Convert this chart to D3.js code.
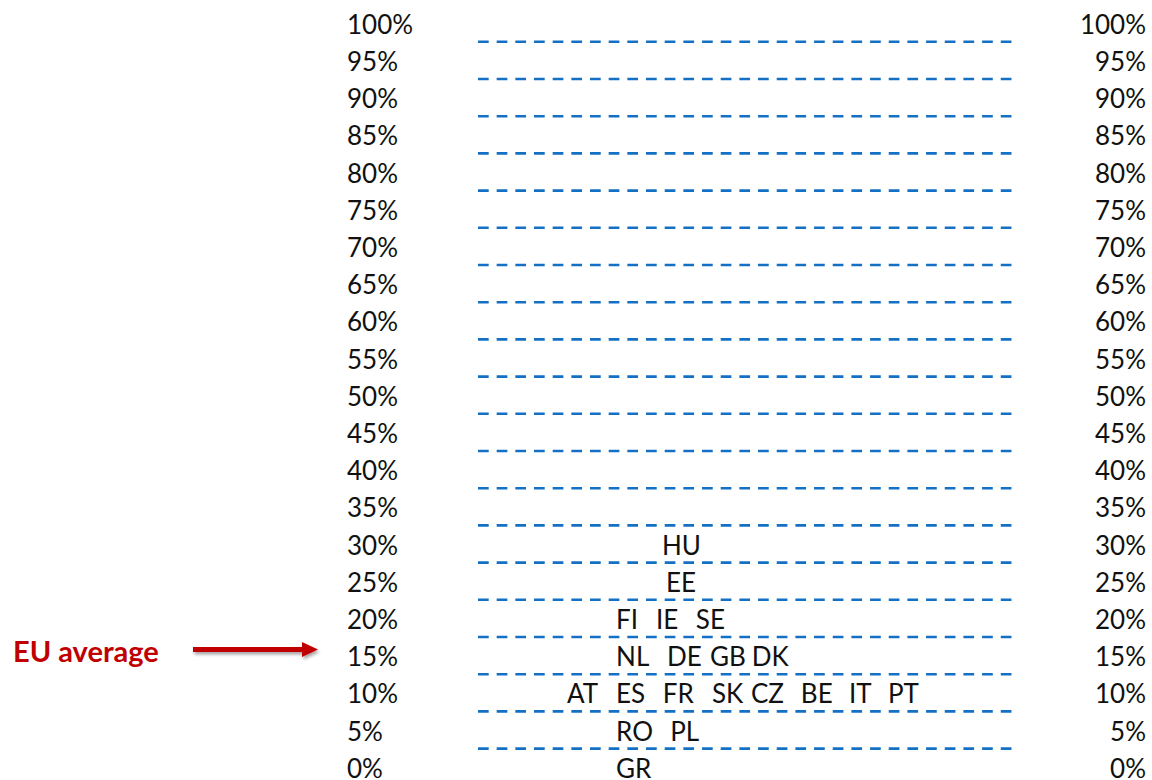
<!DOCTYPE html>
<html>
<head>
<meta charset="utf-8">
<script src="https://cdn.jsdelivr.net/npm/d3@7"></script>
<style>
  html, body { margin: 0; padding: 0; background: #fff; }
  svg { display: block; font-family: Lato, 'Noto Sans', sans-serif; }
</style>
</head>
<body>
<svg id="chart" width="1152" height="780"></svg>
<script>
// percentage rows, top to bottom
const ticks = [100, 95, 90, 85, 80, 75, 70, 65, 60, 55, 50, 45, 40, 35, 30, 25, 20, 15, 10, 5, 0];

// countries: share bucket (%) and horizontal column
const codes = ['HU', 'EE', 'FI', 'IE', 'SE', 'NL', 'DE', 'GB', 'DK',
  'AT', 'ES', 'FR', 'SK', 'CZ', 'BE', 'IT', 'PT', 'RO', 'PL', 'GR'];
const shares = [30, 25, 20, 20, 20, 15, 15, 15, 15,
  10, 10, 10, 10, 10, 10, 10, 10, 5, 5, 0];
const columns = [2.07, 2.16, 1.07, 1.94, 2.81, 1.07, 2.18, 3.12, 4.03,
  0, 1.07, 2.09, 3.16, 4.01, 5.1, 6.15, 7, 1.07, 2.25, 1.07];

const euAverage = 15;

const svg = d3.select('#chart');

const y = d3.scaleBand()
  .domain(ticks)
  .range([4.6, 4.6 + ticks.length * 37.2]);

const x = d3.scaleLinear()
  .domain([0, 7])
  .range([567, 888]);

const baseline = d => y(d) + y.bandwidth() - 8;

// dashed separators under every row except the last
svg.append('g')
  .selectAll('line')
  .data(ticks.slice(0, -1))
  .join('line')
  .attr('x1', 478)
  .attr('x2', 1012)
  .attr('y1', d => y(d) + y.bandwidth())
  .attr('y2', d => y(d) + y.bandwidth())
  .attr('stroke', '#1470c4')
  .attr('stroke-width', 2.6)
  .attr('stroke-dasharray', '10.7,7.97');

// left labels
svg.append('g')
  .selectAll('text')
  .data(ticks)
  .join('text')
  .attr('x', 347)
  .attr('y', baseline)
  .style('font-size', '26px')
  .style('fill', '#111')
  .text(d => `${d}%`);

// right labels
svg.append('g')
  .selectAll('text')
  .data(ticks)
  .join('text')
  .attr('x', 1146)
  .attr('y', baseline)
  .attr('text-anchor', 'end')
  .style('font-size', '26px')
  .style('fill', '#111')
  .text(d => `${d}%`);

// country codes
svg.append('g')
  .selectAll('text')
  .data(codes.map((c, i) => ({code: c, share: shares[i], col: columns[i]})))
  .join('text')
  .attr('x', d => x(d.col))
  .attr('y', d => baseline(d.share))
  .style('font-size', '26px')
  .style('fill', '#111')
  .text(d => d.code);

// EU average annotation
const defs = svg.append('defs');
const blur = defs.append('filter').attr('id', 'shadow').attr('x', '-20%').attr('y', '-100%')
  .attr('width', '140%').attr('height', '300%');
blur.append('feDropShadow')
  .attr('dx', 1.5).attr('dy', 2.5).attr('stdDeviation', 1.6)
  .attr('flood-color', '#000').attr('flood-opacity', 0.35);

const ay = y(euAverage) + y.bandwidth() / 2 - 6;
const arrow = svg.append('g').attr('filter', 'url(#shadow)');
arrow.append('line')
  .attr('x1', 193).attr('x2', 304)
  .attr('y1', ay).attr('y2', ay)
  .attr('stroke', '#c00000')
  .attr('stroke-width', 5);
arrow.append('path')
  .attr('d', `M302,${ay - 7.5} L318,${ay} L302,${ay + 7.5} Z`)
  .attr('fill', '#c00000');

svg.append('text')
  .attr('x', 13)
  .attr('y', baseline(euAverage) - 4)
  .style('font-size', '29px')
  .style('font-weight', 'bold')
  .style('fill', '#c00000')
  .text('EU average');
</script>
</body>
</html>
